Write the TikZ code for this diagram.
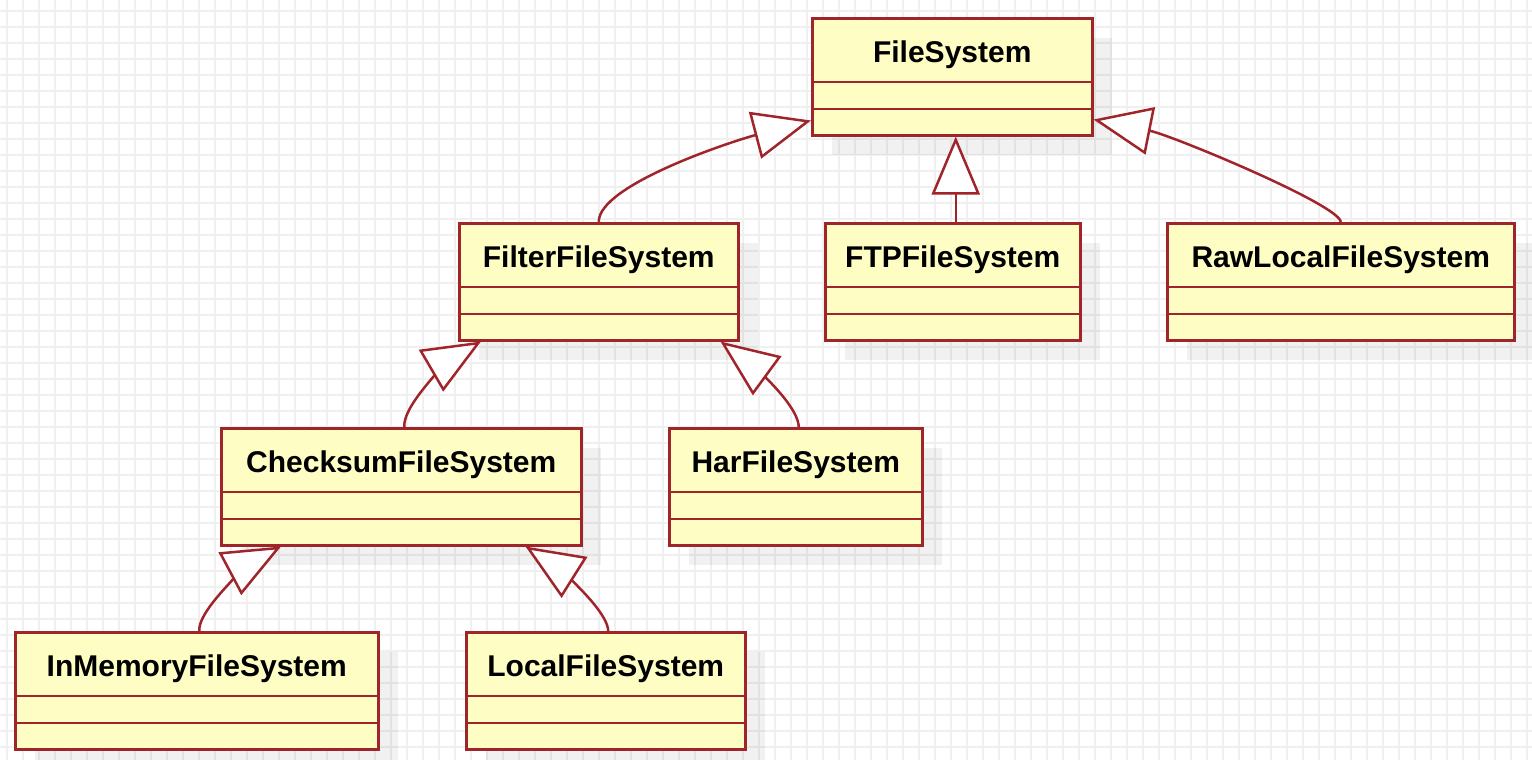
\documentclass[tikz,border=0pt]{standalone}
\usepackage{fontspec}
\setmainfont{Liberation Sans}
\usetikzlibrary{arrows.meta,calc}
\definecolor{umlborder}{HTML}{A0252B}
\definecolor{umlfill}{HTML}{FEFEC4}
\definecolor{gridc}{HTML}{F0F0F0}
\tikzset{
  classbox/.style={draw=umlborder, fill=umlfill, line width=1.25pt, inner sep=0pt, anchor=north west, rectangle},
  classname/.style={font=\bfseries\fontsize{15}{18}\selectfont, anchor=base, inner sep=0pt},
  divider/.style={draw=umlborder, line width=1.2pt},
  boxshadow/.style={fill=black, opacity=0.055},
  gen/.style={draw=umlborder, line width=1.25pt, -{Triangle[fill=white, length=29pt, width=24pt]}},
  gridline/.style={draw=gridc, line width=0.9pt},
}
\newcommand\umlclass[5]{% name, left, top, right, label
  \pgfmathsetmacro\bw{(#4-#2)*0.5}
  \fill[boxshadow] (#2+21,#3+21) rectangle (#4+21,#3+138);
  \node[classbox, minimum width=\bw pt, minimum height=58.5pt] (#1) at (#2,#3) {};
  \draw[divider] ([yshift=-32.5pt]#1.north west) -- ([yshift=-32.5pt]#1.north east);
  \draw[divider] ([yshift=-46pt]#1.north west) -- ([yshift=-46pt]#1.north east);
  \node[classname] (#1-t) at ($(#1.north)+(0,45)$) {#5};
}
\begin{document}
\begin{tikzpicture}[x=0.5pt, y=-0.5pt]
\useasboundingbox (0,0) rectangle (1532,760);
\fill[white] (0,0) rectangle (1532,760);
\foreach \x in {7,23,...,1532} \draw[gridline] (\x,0) -- (\x,760);
\foreach \y in {11,27,...,760} \draw[gridline] (0,\y) -- (1532,\y);

\umlclass{fs}{811}{17}{1091}{FileSystem}
\umlclass{filter}{458}{222}{737}{FilterFileSystem}
\umlclass{ftp}{824}{222}{1079}{FTPFileSystem}
\umlclass{raw}{1166}{222}{1513}{RawLocalFileSystem}
\umlclass{check}{220}{427}{580}{ChecksumFileSystem}
\umlclass{har}{668}{427}{921}{HarFileSystem}
\umlclass{inmem}{14}{631}{377}{InMemoryFileSystem}
\umlclass{local}{465}{631}{744}{LocalFileSystem}

\draw[gen] (filter.north) .. controls (598,185) and (733,141) .. ([yshift=8pt]fs.south west);
\draw[gen] ([xshift=1.5pt]ftp.north) -- ([xshift=1.5pt]ftp.north |- fs.south);
\draw[gen] (raw.north) .. controls (1340,205) and (1171,135) .. ([yshift=8.5pt]fs.south east);
\draw[gen] ([xshift=1.5pt]check.north) .. controls (403,400) and (463,352) .. ([xshift=11.5pt]filter.south west);
\draw[gen] ([xshift=1.5pt]har.north) .. controls (798,400) and (734,351.4) .. ([xshift=-9.5pt]filter.south east);
\draw[gen] ([xshift=1.25pt]inmem.north) .. controls (198,605) and (265,555) .. ([xshift=30.5pt]check.south west);
\draw[gen] ([xshift=1.25pt]local.north) .. controls (607,605) and (539,555) .. ([xshift=-28.5pt]check.south east);
\end{tikzpicture}
\end{document}
